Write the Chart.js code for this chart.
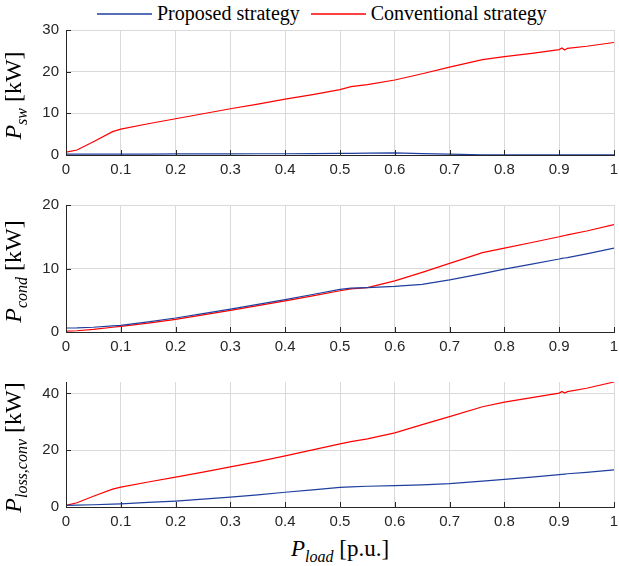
<!DOCTYPE html>
<html lang="en">
<head>
<meta charset="utf-8">
<title>Converter losses</title>
<style>
body { margin: 0; background: #fff; width: 619px; height: 566px; position: relative; overflow: hidden; }
canvas { position: absolute; left: 0; }
.legend { position: absolute; left: 97px; top: 2px; display: flex; align-items: center;
  font-family: "Liberation Serif", serif; font-size: 20px; color: #000; white-space: nowrap; }
.legend svg { margin-right: 5px; }
.legend .gap { display: inline-block; width: 11px; }
.ytitle { position: absolute; width: 240px; text-align: center; white-space: nowrap;
  font-family: "Liberation Serif", serif; font-size: 24px; color: #000; line-height: 26px;
  transform: rotate(-90deg); transform-origin: 50% 50%; }
.ytitle sub, .xtitle sub { font-size: 16px; font-style: italic; vertical-align: -6px; }
.xtitle { position: absolute; left: 190px; width: 300px; top: 536px; text-align: center; white-space: nowrap;
  font-family: "Liberation Serif", serif; font-size: 23px; color: #000; line-height: 26px; }
</style>
</head>
<body>
<div class="legend">
  <svg width="55" height="4"><line x1="0" y1="2" x2="55" y2="2" stroke="#1f3f9f" stroke-width="1.3"/></svg><span>Proposed strategy</span>
  <span class="gap"></span>
  <svg width="55" height="4"><line x1="0" y1="2" x2="55" y2="2" stroke="#ff0000" stroke-width="1.3"/></svg><span>Conventional strategy</span>
</div>

<canvas id="c1" width="619" height="160" style="top:20px"></canvas>
<canvas id="c2" width="619" height="162" style="top:195px"></canvas>
<canvas id="c3" width="619" height="160" style="top:372px"></canvas>

<div class="ytitle" style="left:-103px; top:78px"><i>P</i><sub>sw</sub> [kW]</div>
<div class="ytitle" style="left:-103px; top:254px"><i>P</i><sub>cond</sub> [kW]</div>
<div class="ytitle" style="left:-103px; top:430px"><i>P</i><sub>loss,conv</sub> [kW]</div>
<div class="xtitle"><i>P</i><sub>load</sub> [p.u.]</div>

<script src="https://cdn.jsdelivr.net/npm/chart.js"></script>
<script>
// load in p.u.
const loadX = [0, 0.02, 0.05, 0.085, 0.1, 0.15, 0.2, 0.25, 0.3, 0.35, 0.4, 0.45, 0.5, 0.52, 0.55,
               0.6, 0.65, 0.7, 0.76, 0.8, 0.85, 0.9, 0.905, 0.91, 0.915, 0.95, 1];

// switching losses [kW]
const swProposed = [0.2, 0.2, 0.2, 0.2, 0.2, 0.2, 0.25, 0.25, 0.25, 0.3, 0.3, 0.35, 0.4, 0.4, 0.45,
                    0.5, 0.35, 0.2, 0.05, 0.05, 0.05, 0.05, 0.05, 0.05, 0.05, 0.05, 0.05];
const swConventional = [0.7, 1.2, 3.2, 5.6, 6.2, 7.5, 8.7, 9.9, 11.1, 12.2, 13.4, 14.5, 15.7, 16.4, 16.9,
                        18.0, 19.5, 21.1, 22.9, 23.6, 24.4, 25.3, 25.7, 25.2, 25.6, 26.1, 27.0];

// conduction losses [kW]
const condProposed = [0.63, 0.65, 0.75, 0.95, 1.05, 1.6, 2.2, 2.9, 3.6, 4.35, 5.1, 5.9, 6.7, 6.9, 7.0,
                      7.2, 7.5, 8.2, 9.2, 9.9, 10.7, 11.5, 11.6, 11.65, 11.7, 12.3, 13.2];
const condConventional = [0.15, 0.2, 0.4, 0.75, 0.9, 1.4, 2.0, 2.7, 3.4, 4.15, 4.9, 5.7, 6.5, 6.8, 7.0,
                          8.05, 9.4, 10.8, 12.5, 13.2, 14.1, 15.0, 15.1, 15.2, 15.3, 15.9, 16.9];

// total converter losses [kW]
const lossProposed = [0.6, 0.65, 0.8, 1.0, 1.1, 1.6, 2.1, 2.8, 3.5, 4.3, 5.2, 6.0, 6.9, 7.1, 7.3,
                      7.5, 7.8, 8.2, 9.1, 9.7, 10.5, 11.4, 11.5, 11.6, 11.7, 12.2, 13.1];
const lossConventional = [0.6, 1.5, 3.8, 6.3, 7.0, 8.8, 10.5, 12.3, 14.1, 16.0, 18.0, 20.1, 22.2, 23.0, 24.0,
                          26.1, 29.0, 31.8, 35.3, 36.9, 38.5, 40.1, 40.7, 40.1, 40.6, 41.8, 44.0];

const xTicks = [0, 0.1, 0.2, 0.3, 0.4, 0.5, 0.6, 0.7, 0.8, 0.9, 1];
const xTickLabels = ['0', '0.1', '0.2', '0.3', '0.4', '0.5', '0.6', '0.7', '0.8', '0.9', '1'];
const yTicks1 = [0, 10, 20, 30];
const yTicks2 = [0, 10, 20];
const yTicks3 = [0, 20, 40];

const BLUE = '#1f3f9f';
const RED = '#ff0000';
const AXIS = '#262626';

function pts(ys) {
  return loadX.map((x, i) => ({ x: x, y: ys[i] }));
}

// small inward tick marks like the original figure
const innerTicks = {
  id: 'innerTicks',
  afterDraw(chart) {
    const ctx = chart.ctx;
    const a = chart.chartArea;
    const xs = chart.scales.x, ys = chart.scales.y;
    ctx.save();
    ctx.strokeStyle = AXIS;
    ctx.lineWidth = 1;
    ctx.beginPath();
    xs.ticks.forEach(t => {
      const px = Math.round(xs.getPixelForValue(t.value)) + 0.5;
      ctx.moveTo(px, a.bottom);
      ctx.lineTo(px, a.bottom - 5);
    });
    ys.ticks.forEach(t => {
      const py = Math.round(ys.getPixelForValue(t.value)) + 0.5;
      ctx.moveTo(a.left, py);
      ctx.lineTo(a.left + 5, py);
    });
    ctx.stroke();
    ctx.restore();
  }
};

function makeChart(id, blue, red, yMax, tickList) {
  return new Chart(document.getElementById(id), {
    type: 'line',
    data: {
      datasets: [
        { label: 'Proposed strategy', data: pts(blue), borderColor: BLUE, borderWidth: 1.2,
          pointRadius: 0, tension: 0, fill: false },
        { label: 'Conventional strategy', data: pts(red), borderColor: RED, borderWidth: 1.2,
          pointRadius: 0, tension: 0, fill: false }
      ]
    },
    options: {
      responsive: false,
      animation: false,
      layout: { padding: { top: 10, right: 5, left: 0, bottom: 0 } },
      plugins: { legend: { display: false }, tooltip: { enabled: false } },
      scales: {
        x: {
          type: 'linear', min: 0, max: 1,
          grid: { color: '#d9d9d9', lineWidth: 1, drawTicks: false },
          border: { display: true, color: AXIS, width: 1 },
          ticks: { color: AXIS, padding: 6, maxRotation: 0, autoSkip: false,
                   font: { family: 'Liberation Sans', size: 15 },
                   callback: (v, i) => xTickLabels[i] },
          afterBuildTicks(s) { s.ticks = xTicks.map(v => ({ value: v })); },
          afterFit(s) { s.height = 25; s.paddingLeft = 0; s.paddingRight = 0; }
        },
        y: {
          min: 0, max: yMax,
          grid: { color: '#d9d9d9', lineWidth: 1, drawTicks: false },
          border: { display: true, color: AXIS, width: 1 },
          ticks: { color: AXIS, padding: 7, font: { family: 'Liberation Sans', size: 15 } },
          afterBuildTicks(s) { s.ticks = tickList.map(v => ({ value: v })); },
          afterFit(s) { s.width = 66; s.paddingTop = 0; s.paddingBottom = 0; }
        }
      }
    },
    plugins: [innerTicks]
  });
}

makeChart('c1', swProposed, swConventional, 30, yTicks1);
makeChart('c2', condProposed, condConventional, 20, yTicks2);
makeChart('c3', lossProposed, lossConventional, 44, yTicks3);
</script>
</body>
</html>
